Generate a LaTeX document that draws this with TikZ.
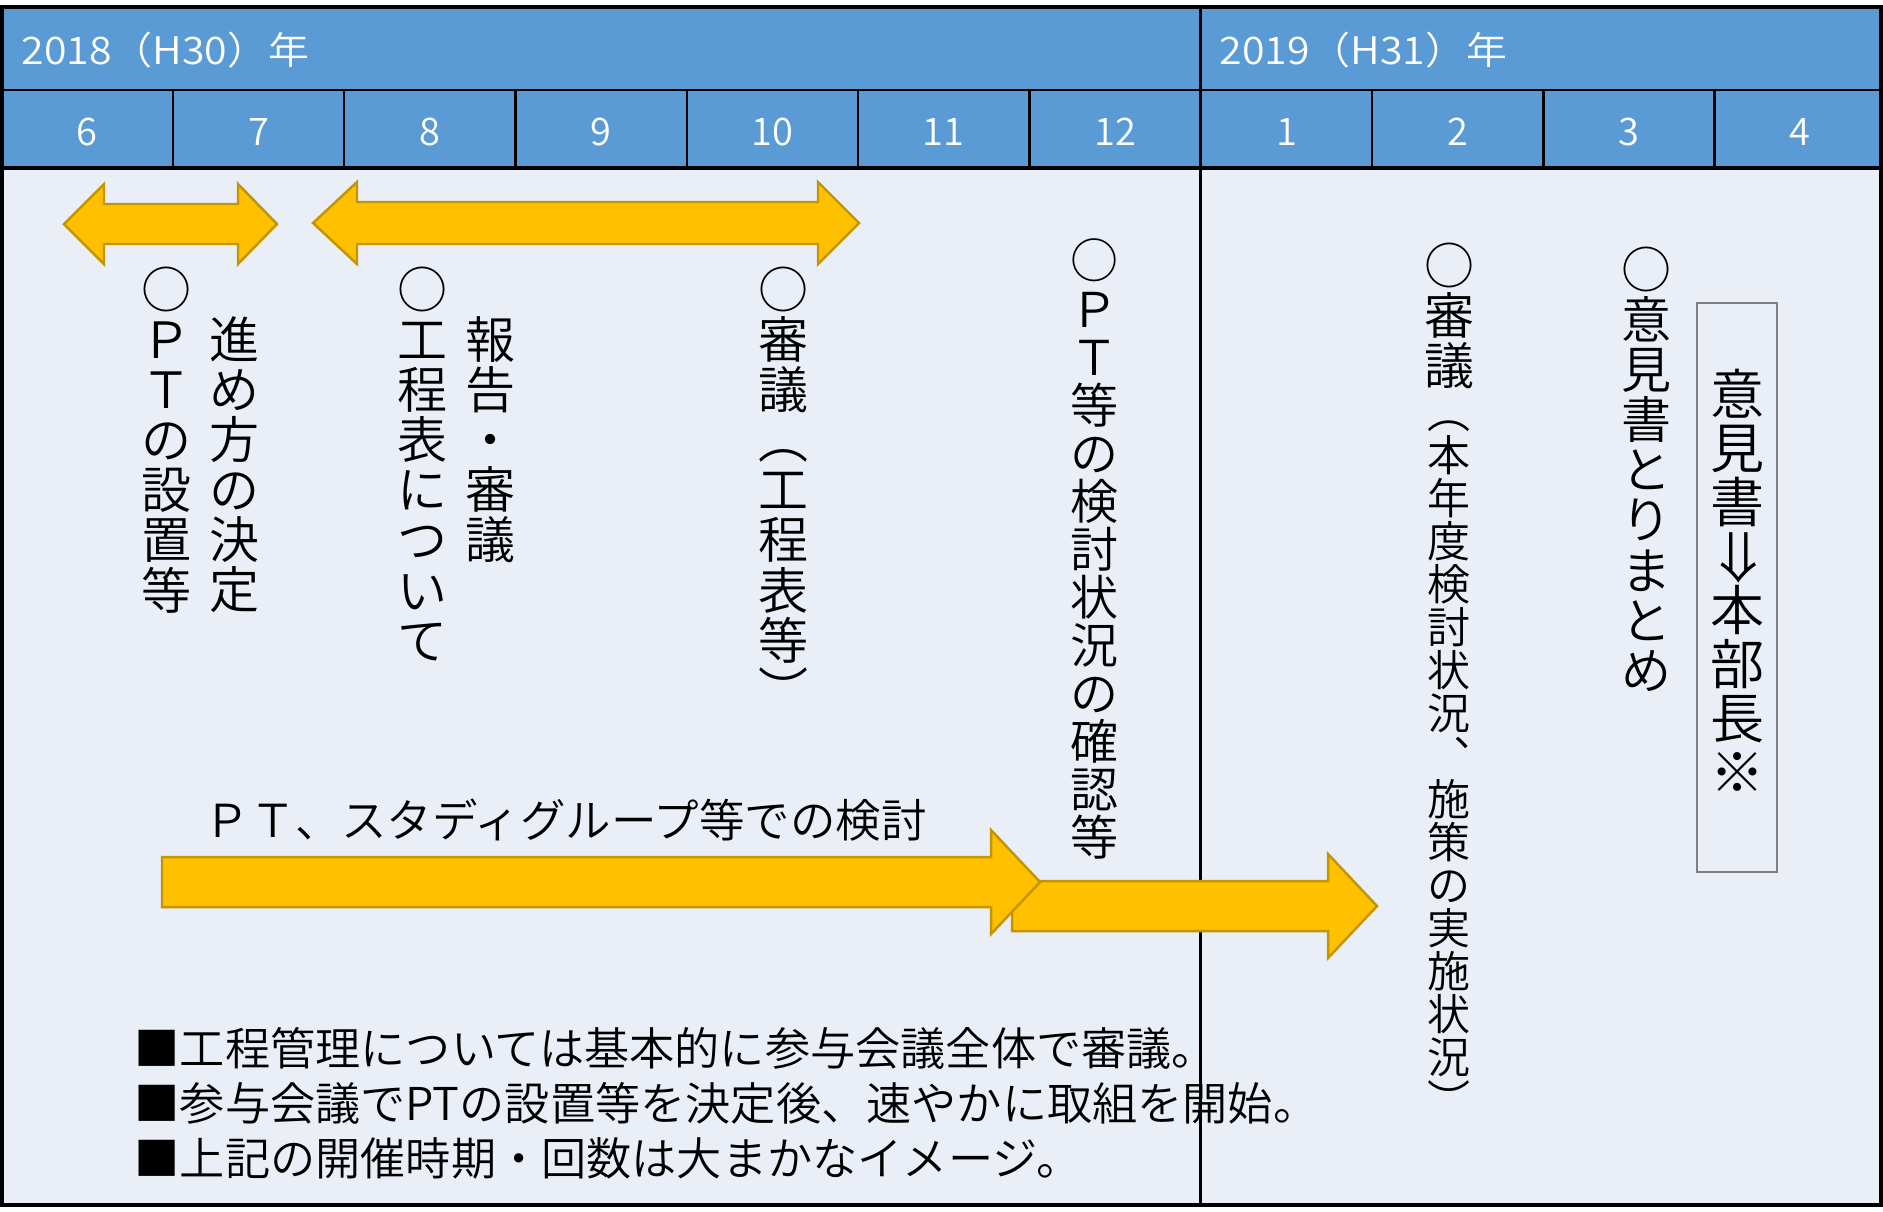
\documentclass[tikz,border=0pt]{standalone}
\usepackage{fontspec}
\usepackage{graphicx}
\IfFontExistsTF{Noto Sans CJK JP DemiLight}
	{\newfontfamily\jp{Noto Sans CJK JP DemiLight}}
	{\IfFontExistsTF{Noto Sans CJK JP Light}
		{\newfontfamily\jp{Noto Sans CJK JP Light}}
		{\newfontfamily\jp{Noto Sans CJK JP}}}
\usetikzlibrary{positioning}

\definecolor{headblue}{HTML}{5B9BD5}
\definecolor{paleblue}{HTML}{EAEEF6}
\definecolor{gold}{HTML}{FFC000}
\definecolor{golddark}{HTML}{C39500}
\definecolor{boxgray}{HTML}{7F7F7F}

% font whose em is also the line pitch
\newcommand\jpat[1]{\jp\fontsize{#1}{#1}\selectfont}
% vertical text: one character per cell, top to bottom
\newcommand\vcell[1]{\hbox to 1em{\hss\rule[-0.12em]{0pt}{1em}#1\hss}}
\def\vstop{\vstop}
\def\vloop#1{\ifx\vstop#1\else\vcell{#1}\expandafter\vloop\fi}
\newcommand\vtext[1]{\vtop{\offinterlineskip\vloop#1\vstop}}

\begin{document}
\begin{tikzpicture}[
	x=0.01cm, y=-0.01cm,
	frame line/.style={line width=0.9pt},
	grid line/.style={line width=0.7pt},
	block arrow/.style={fill=gold, draw=golddark, line width=0.7pt},
	head text/.style={text=white, inner sep=0pt, font=\jpat{10.8pt}},
	month/.style={head text, anchor=center},
	vcol/.style={anchor=north, inner sep=0pt, font=\jpat{14.23pt}},
	memo box/.style={draw=boxgray, line width=0.4pt},
	note/.style={anchor=west, inner sep=0pt, align=left,
		font={\jp\fontsize{12.85pt}{15.65pt}\selectfont}}
	]
	\useasboundingbox (0,0) rectangle (1883,1211);
	% table
	\fill[paleblue] (2,7) rectangle (1881,1205);
	\fill[headblue] (2,7) rectangle (1881,168);
	\draw[grid line] (2,90) -- (1881,90);
	\draw[frame line] (2,168) -- (1881,168);
	\foreach \i in {1,...,10}
		\draw[grid line] ({1.6+171.3*\i},90) -- ({1.6+171.3*\i},168);
	\draw[grid line] ({1.6+171.3*7},7) -- ({1.6+171.3*7},1205);
	\draw[frame line] (2,7) rectangle (1881,1205);
	% years and months
	\node[head text, anchor=west] (y2018) at (21,50) {\scalebox{1.08}[1]{2018（H30）年}};
	\node[head text, anchor=west] (y2019) at (1219,50) {\scalebox{1.08}[1]{2019（H31）年}};
	\foreach \m [count=\i from 0] in {6,7,8,9,10,11,12,1,2,3,4}
		\node[month] (m\i) at ({87.3+171.3*\i},132) {\m};
	% arrows
	\draw[block arrow] (64,224) -- (104,184) -- (104,204) -- (238,204) -- (238,184)
		-- (277,224) -- (238,264) -- (238,244) -- (104,244) -- (104,264) -- cycle;
	\draw[block arrow] (313,223) -- (357,182) -- (357,202) -- (818,202) -- (818,182)
		-- (859,223) -- (818,264) -- (818,244) -- (357,244) -- (357,264) -- cycle;
	\draw[block arrow] (1012,881) -- (1328,881) -- (1328,854) -- (1377,906)
		-- (1328,958) -- (1328,931) -- (1012,931) -- cycle;
	\draw[block arrow] (162,857) -- (991,857) -- (991,830) -- (1040,882)
		-- (991,934) -- (991,907) -- (162,907) -- cycle;
	% vertical texts
	\node[vcol] (ptset) at (167,264) {\vtext{○ＰＴの設置等}};
	\node[vcol] (howto) at (235,314) {\vtext{進め方の決定}};
	\node[vcol] (koutei) at (423,264) {\vtext{○工程表について}};
	\node[vcol] (houkoku) at (491,314) {\vtext{報告・審議}};
	\node[vcol] (shingi) at (784,264) {\vtext{○審議︵工程表等︶}};
	\node[vcol, font=\jpat{13.66pt}] (kentou) at (1094,236)
		{\vtext{○ＰＴ等の検討状況の確認等}};
	\node[vcol] (shingi2) at (1449,240) {\vtext{○審議}};
	\node[vcol, font=\jpat{12.23pt}] (jokyo) at (1449,390)
		{\vtext{︵本年度検討状況︑施策の実施状況︶}};
	\node[vcol] (matome) at (1646,244) {\vtext{○意見書とりまとめ}};
	\draw[memo box] (1697,303) rectangle (1777,872);
	\node[vcol, font=\jpat{15.37pt}] (memo) at (1737,366)
		{\vtext{意見書{\smash{\rotatebox[origin=c]{-90}{⇒}}}本部長※}};
	% horizontal texts
	\node[anchor=west, inner sep=0pt, font=\jpat{12.94pt}] (study) at (204,820)
		{ＰＴ、スタディグループ等での検討};
	\node[note] (notes) at (134,1103) {■工程管理については基本的に参与会議全体で審議。\\
		■参与会議でPTの設置等を決定後、速やかに取組を開始。\\
		■上記の開催時期・回数は大まかなイメージ。};
\end{tikzpicture}
\end{document}
